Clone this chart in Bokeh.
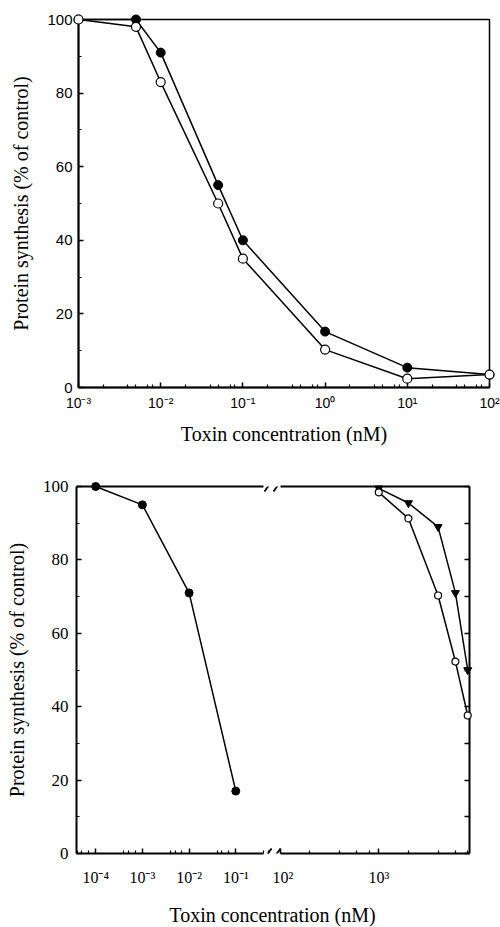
from bokeh.plotting import figure
from bokeh.models import Range1d, FixedTicker, LogAxis, LinearAxis, Arrow, Div, Spacer
from bokeh.layouts import column, row
from bokeh.embed import file_html
from bokeh.resources import INLINE

# ---------------- data ----------------
# top panel
top_conc = [0.001, 0.005, 0.01, 0.05, 0.1, 1, 10, 100]
top_filled = [100, 100, 91, 55, 40, 15.2, 5.4, 3.5]
top_open = [100, 98, 83, 50, 35, 10.3, 2.4, 3.5]
top_xticks = [0.001, 0.01, 0.1, 1, 10, 100]
top_xtick_labels = ["10⁻³", "10⁻²", "10⁻¹", "10⁰", "10¹", "10²"]

# bottom panel
bl_conc = [0.0001, 0.001, 0.01, 0.1]
bl_filled = [100, 95, 71, 17]
br_conc = [1000, 2000, 4000, 6000, 8000]
br_triangle = [99.5, 95.5, 89, 71, 50]
br_open = [98.4, 91.3, 70.3, 52.3, 37.6]
bl_xticks = [0.0001, 0.001, 0.01, 0.1]
bl_xtick_labels = ["10⁻⁴", "10⁻³", "10⁻²", "10⁻¹"]
br_xticks = [100, 1000]
br_xtick_labels = ["10²", "10³"]

yticks = [0, 20, 40, 60, 80, 100]
ytick_labels = ["0", "20", "40", "60", "80", "100"]
y_minor = [10, 30, 50, 70, 90]
y_right_ticks = [0, 10, 20, 30, 40, 50, 60, 70, 80, 90, 100]

xlabel = "Toxin concentration (nM)"
ylabel = "Protein synthesis (% of control)"

SERIF = "Liberation Serif"
SANS = "Liberation Sans"


def minors(decades, mults):
    return [d * m for d in decades for m in mults]


def style_axis(ax, font, size, standoff):
    ax.major_label_text_font = font
    ax.major_label_text_font_size = size
    ax.major_label_text_color = "black"
    ax.major_label_standoff = standoff
    ax.major_tick_in = 5
    ax.major_tick_out = 0
    ax.minor_tick_in = 3
    ax.minor_tick_out = 0
    ax.major_tick_line_width = 1.5
    ax.minor_tick_line_width = 1.2
    ax.axis_line_width = 2
    ax.axis_line_color = "black"
    ax.axis_label_text_font = SERIF
    ax.axis_label_text_font_size = "20px"
    ax.axis_label_text_font_style = "normal"
    ax.axis_label_text_color = "black"


# ---------------- top panel ----------------
p1 = figure(width=500, height=466, x_axis_type="log",
            x_range=Range1d(1e-3, 1e2), y_range=Range1d(0, 100),
            output_backend="svg", toolbar_location=None,
            min_border_left=78, min_border_right=11, min_border_top=19, min_border_bottom=79)
p1.grid.visible = False
p1.outline_line_color = "black"
p1.outline_line_width = 1.5
p1.outline_line_alpha = 1.0

xa = p1.xaxis[0]
xa.ticker = FixedTicker(ticks=top_xticks, minor_ticks=minors(top_xticks[:-1], [2, 4, 5, 7, 8]))
xa.major_label_overrides = dict(zip(top_xticks, top_xtick_labels))
style_axis(xa, SANS, "14px", 7)
xa.axis_label = xlabel
xa.axis_label_standoff = 9

ya = p1.yaxis[0]
ya.ticker = FixedTicker(ticks=yticks, minor_ticks=y_minor)
ya.major_label_overrides = dict(zip(yticks, ytick_labels))
style_axis(ya, SANS, "15px", 6)
ya.axis_label = ylabel
ya.axis_label_standoff = 12

p1.line(top_conc, top_filled, line_color="black", line_width=1.5, level="overlay")
p1.scatter(top_conc, top_filled, marker="circle", size=9, fill_color="black", line_color="black", level="overlay")
p1.line(top_conc, top_open, line_color="black", line_width=1.5, level="overlay")
p1.scatter(top_conc, top_open, marker="circle", size=9, fill_color="white", line_color="black",
           line_width=1.2, level="overlay")

# ---------------- bottom panel (broken axis) ----------------
bl_start, bl_end, bl_bound = 10 ** -4.411, 10 ** -0.214, 10 ** -0.407
br_start, br_end = 10 ** 1.921, 10 ** 3.921

p2 = figure(width=272, height=438, x_axis_type="log",
            x_range=Range1d(bl_start, bl_end), y_range=Range1d(0, 100),
            output_backend="svg", toolbar_location=None,
            min_border_left=76, min_border_right=0, min_border_top=20, min_border_bottom=51)
p2.grid.visible = False
p2.outline_line_color = None

xa2 = p2.xaxis[0]
xa2.ticker = FixedTicker(ticks=bl_xticks, minor_ticks=minors([1e-5] + bl_xticks, [4, 5, 7]))
xa2.major_label_overrides = dict(zip(bl_xticks, bl_xtick_labels))
style_axis(xa2, SERIF, "16px", 15)
xa2.bounds = (bl_start, bl_bound)

ya2 = p2.yaxis[0]
ya2.ticker = FixedTicker(ticks=yticks, minor_ticks=y_minor)
ya2.major_label_overrides = dict(zip(yticks, ytick_labels))
style_axis(ya2, SERIF, "17px", 8)
ya2.axis_label = ylabel
ya2.axis_label_standoff = 12

top2 = LogAxis(ticker=FixedTicker(ticks=[]), bounds=(bl_start, bl_bound), axis_line_width=2,
               major_tick_line_color=None, minor_tick_line_color=None,
               major_label_text_color=None, major_label_standoff=0)
p2.add_layout(top2, "above")

p2.line(bl_conc, bl_filled, line_color="black", line_width=1.5, level="overlay")
p2.scatter(bl_conc, bl_filled, marker="circle", size=8, fill_color="black", line_color="black", level="overlay")

p3 = figure(width=228, height=438, x_axis_type="log",
            x_range=Range1d(br_start, br_end), y_range=Range1d(0, 100),
            y_axis_location=None,
            output_backend="svg", toolbar_location=None,
            min_border_left=0, min_border_right=31, min_border_top=20, min_border_bottom=51)
p3.grid.visible = False
p3.outline_line_color = None

xa3 = p3.xaxis[0]
xa3.ticker = FixedTicker(ticks=br_xticks, minor_ticks=minors(br_xticks, [2, 4, 6, 8]))
xa3.major_label_overrides = dict(zip(br_xticks, br_xtick_labels))
style_axis(xa3, SERIF, "16px", 15)
xa3.bounds = (100, br_end)

top3 = LogAxis(ticker=FixedTicker(ticks=[]), bounds=(100, br_end), axis_line_width=2,
               major_tick_line_color=None, minor_tick_line_color=None,
               major_label_text_color=None, major_label_standoff=0)
p3.add_layout(top3, "above")

right3 = LinearAxis(ticker=FixedTicker(ticks=y_right_ticks), axis_line_width=2,
                    major_tick_in=5, major_tick_out=0, major_tick_line_width=1.5,
                    minor_tick_line_color=None,
                    major_label_text_color=None, major_label_text_font_size="10px",
                    major_label_standoff=0)
p3.add_layout(right3, "right")

p3.line(br_conc, br_triangle, line_color="black", line_width=1.5, level="overlay")
p3.scatter(br_conc, br_triangle, marker="inverted_triangle", size=8, fill_color="black",
           line_color="black", level="overlay")
p3.line(br_conc, br_open, line_color="black", line_width=1.5, level="overlay")
p3.scatter(br_conc, br_open, marker="circle", size=7, fill_color="white", line_color="black",
           line_width=1.2, level="overlay")

# break marks "//" (screen units, relative to each frame)
for fig, x0 in ((p2, 188), (p3, 1)):
    for yc in (0, 367):
        fig.add_layout(Arrow(end=None, x_start=x0, y_start=yc - 5, x_end=x0 + 7, y_end=yc + 5,
                             start_units="screen", end_units="screen",
                             line_color="black", line_width=1.8))

xlabel_div = Div(text=xlabel, width=393, height=23, margin=0,
                 styles={"font-family": "'Liberation Serif', serif", "font-size": "20px",
                         "text-align": "center", "line-height": "23px", "color": "black"})

layout = column(p1, row(p2, p3), row(Spacer(width=76, height=23), xlabel_div))

open("out.html", "w").write(file_html(layout, INLINE))
